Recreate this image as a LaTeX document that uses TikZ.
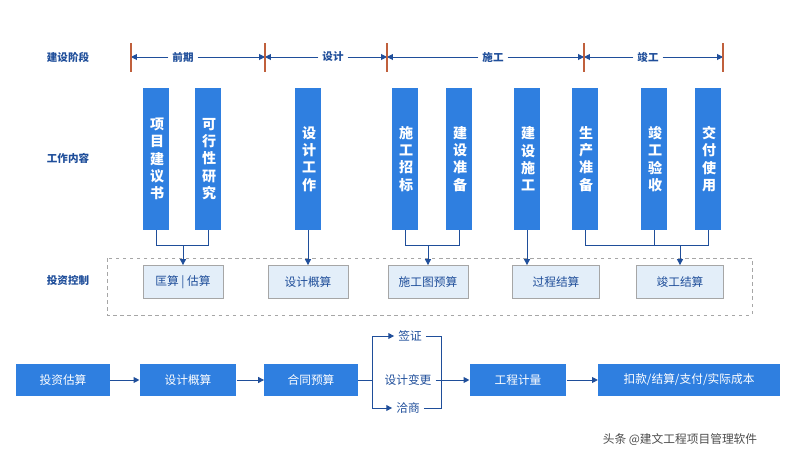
\documentclass[tikz,border=0pt]{standalone}
\usepackage{fontspec}
\setmainfont{Noto Sans CJK SC}
\usetikzlibrary{arrows.meta}
\definecolor{barblue}{HTML}{2F7FE0}
\definecolor{darkblue}{HTML}{1F4E9A}
\definecolor{lightbox}{HTML}{E3EEF9}
\definecolor{phasered}{HTML}{C0603C}
\begin{document}
\begin{tikzpicture}[x=0.03cm,y=-0.03cm,font=\small,
		bar/.style={fill=barblue,text=white,minimum width=0.78cm,minimum height=4.26cm,inner sep=0pt,align=center,font=\large\bfseries\linespread{1.05}\selectfont,text width=1em},
		cost/.style={draw=gray!70,fill=lightbox,text=darkblue,minimum width=2.4cm,minimum height=1.0cm,font=\normalsize},
		flow/.style={fill=barblue,text=white,minimum height=0.98cm,font=\normalsize},
		lbl/.style={text=darkblue,font=\small\bfseries},
		arr/.style={-{Triangle[length=5pt,width=5pt]},darkblue,thick},
		line/.style={darkblue,thick}]
		\useasboundingbox (0,0) rectangle (799,468);
		% row titles
		\node[lbl] (t1) at (68,57) {建设阶段};
		\node[lbl] (t2) at (68,158) {工作内容};
		\node[lbl] (t3) at (68,280) {投资控制};
		% phases
		\foreach \n/\x in {p1/131,p2/265,p3/387,p4/584,p5/723}
			\coordinate (\n) at (\x,57);
		\node[lbl,fill=white] (f1) at (183,57) {前期};
		\node[lbl,fill=white] (f2) at (333,57) {设计};
		\node[lbl,fill=white] (f3) at (493,57) {施工};
		\node[lbl,fill=white] (f4) at (648,57) {竣工};
		\draw[arr] (f1) -- (p1); \draw[arr] (f1) -- (p2);
		\draw[arr] (f2) -- (p2); \draw[arr] (f2) -- (p3);
		\draw[arr] (f3) -- (p3); \draw[arr] (f3) -- (p4);
		\draw[arr] (f4) -- (p4); \draw[arr] (f4) -- (p5);
		\foreach \x in {131,265,387,584,723}
			\draw[phasered,very thick] (\x,43) -- (\x,72);
		% work bars
		\node[bar] (b1) at (156,159) {项\\目\\建\\议\\书};
		\node[bar] (b2) at (208,159) {可\\行\\性\\研\\究};
		\node[bar] (b3) at (308,159) {设\\计\\工\\作};
		\node[bar] (b4) at (405,159) {施\\工\\招\\标};
		\node[bar] (b5) at (459,159) {建\\设\\准\\备};
		\node[bar] (b6) at (527,159) {建\\设\\施\\工};
		\node[bar] (b7) at (585,159) {生\\产\\准\\备};
		\node[bar] (b8) at (654,159) {竣\\工\\验\\收};
		\node[bar] (b9) at (708,159) {交\\付\\使\\用};
		% cost control
		\draw[gray!70,thick,dashed] (107,258) rectangle (752,315);
		\node[cost] (c1) at (183,282) {匡算 | 估算};
		\node[cost] (c2) at (308,282) {设计概算};
		\node[cost] (c3) at (428,282) {施工图预算};
		\node[cost,minimum width=2.6cm] (c4) at (556,282) {过程结算};
		\node[cost,minimum width=2.6cm] (c5) at (680,282) {竣工结算};
		\draw[line] (b1.south) |- (b2.south |- 0,245) -- (b2.south);
		\draw[arr] (183,245) -- (c1.north);
		\draw[arr] (b3.south) -- (c2.north);
		\draw[line] (b4.south) |- (b5.south |- 0,245) -- (b5.south);
		\draw[arr] (428,245) -- (c3.north);
		\draw[arr] (b6.south) -- (c4.north -| b6.south);
		\draw[line] (b7.south) |- (b9.south |- 0,245) -- (b9.south);
		\draw[line] (b8.south) -- (b8.south |- 0,245);
		\draw[arr] (680,245) -- (c5.north);
		% flow row
		\node[flow,minimum width=2.8cm] (s1) at (63,380) {投资估算};
		\node[flow,minimum width=2.9cm] (s2) at (188,380) {设计概算};
		\node[flow,minimum width=2.8cm] (s3) at (311,380) {合同预算};
		\node[lbl,font=\normalsize] (v1) at (410,336) {签证};
		\node[lbl,font=\normalsize] (v2) at (408,380) {设计变更};
		\node[lbl,font=\normalsize] (v3) at (408,408) {洽商};
		\node[flow,minimum width=2.9cm] (s4) at (518,380) {工程计量};
		\node[flow,minimum width=5.45cm] (s5) at (689,380) {扣款/结算/支付/实际成本};
		\coordinate (j1) at (372,380);
		\coordinate (j2) at (441,380);
		\draw[arr] (s1) -- (s2);
		\draw[arr] (s2) -- (s3);
		\draw[line] (s3) -- (j1);
		\draw[arr] (j1) |- (v1);
		\draw[arr] (j1) |- (v3);
		\draw[line] (v1) -| (j2);
		\draw[line] (v3) -| (j2);
		\draw[line] (v2) -- (j2);
		\draw[arr] (j2) -- (s4);
		\draw[arr] (s4) -- (s5);
		\node[text=gray!60!black,font=\normalsize] (wm) at (680,440) {头条 @建文工程项目管理软件};
\end{tikzpicture}
\end{document}
